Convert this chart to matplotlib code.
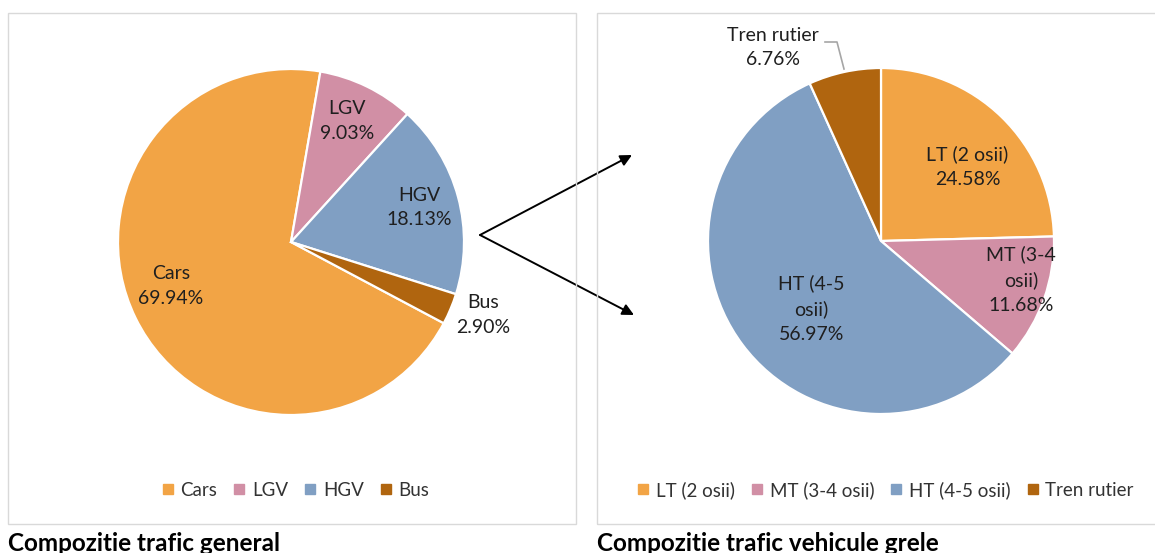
import numpy as np
import matplotlib
matplotlib.use("Agg")
import matplotlib.pyplot as plt
from matplotlib.patches import Rectangle, FancyArrowPatch
from matplotlib.lines import Line2D

# ---------------- data ----------------
gen_labels = ["Cars", "LGV", "HGV", "Bus"]
gen_values = [69.94, 9.03, 18.13, 2.90]
gen_colors = ["#F2A445", "#D18FA5", "#809FC3", "#B0650F"]
gen_title = "Compozitie trafic general"

hv_labels = ["LT (2 osii)", "MT (3-4 osii)", "HT (4-5 osii)", "Tren rutier"]
hv_label_text = ["LT (2 osii)", "MT (3-4\nosii)", "HT (4-5\nosii)", "Tren rutier"]
hv_values = [24.58, 11.68, 56.97, 6.76]
hv_colors = ["#F2A445", "#D18FA5", "#809FC3", "#B0650F"]
hv_title = "Compozitie trafic vehicule grele"

W, H = 1155, 553
FONT = "Lato"
TXT = "#1f1f1f"
LBL_FS = 14
plt.rcParams['font.family'] = [FONT, 'DejaVu Sans']

fig = plt.figure(figsize=(W / 100, H / 100), dpi=100)

def fx(px):
    return px / W

def fy(py):
    return 1 - py / H

# panel borders
for (x0, y0, x1, y1) in [(8, 13, 576, 524), (597, 13, 1160, 524)]:
    fig.patches.append(Rectangle((fx(x0), fy(y1)), fx(x1 - x0), (y1 - y0) / H,
                                 transform=fig.transFigure, fill=False,
                                 edgecolor="#D9D9D9", linewidth=1.0))

def make_pie(cx, cy, r, values, colors, start_cw_from_top, label_texts, label_layout):
    ax = fig.add_axes([fx(cx - r), fy(cy + r), 2 * r / W, 2 * r / H])
    wedges, _ = ax.pie(values, colors=colors, startangle=90 - start_cw_from_top,
                       counterclock=False, radius=1.0,
                       wedgeprops=dict(edgecolor="white", linewidth=1.6))
    ax.set_xlim(-1, 1)
    ax.set_ylim(-1, 1)
    ax.set_aspect("equal")
    ax.axis("off")
    total = sum(values)
    cum = start_cw_from_top
    for v, txt, (dist, dang) in zip(values, label_texts, label_layout):
        span = 360 * v / total
        mid = cum + span / 2 + dang
        cum += span
        a = np.deg2rad(mid)
        x, y = dist * np.sin(a), dist * np.cos(a)
        pct = f"{v:.2f}%"
        ax.text(x, y, f"{txt}\n{pct}", ha="center", va="center", fontsize=LBL_FS,
                color=TXT, linespacing=1.55, clip_on=False)
    return ax, wedges

# left pie (Cars first, first slice angle 118 deg)
ax1, w1 = make_pie(291, 242, 173, gen_values, gen_colors, 118, gen_labels,
                   [(0.74, 6), (0.77, -1), (0.77, 0), (1.19, -2)])

# right pie
hv_layout = [(0.66, 5), (0.84, -4), (0.56, -7), (1.28, -17)]
ax2, w2 = make_pie(881, 241, 173, hv_values, hv_colors, 0, hv_label_text, hv_layout)

# leader line for Tren rutier
fig.add_artist(Line2D([fx(825), fx(837), fx(844)], [fy(42), fy(42), fy(69)],
                      transform=fig.transFigure, color="#A6A6A6", linewidth=1.2))

# arrows
for tip in [(632, 155), (634, 315)]:
    fig.add_artist(FancyArrowPatch(
        (fx(480), fy(235)), (fx(tip[0]), fy(tip[1])), transform=fig.transFigure,
        arrowstyle="-|>", mutation_scale=17, color="black", linewidth=1.4,
        shrinkA=0, shrinkB=0))

def legend(labels, colors, cx, cy):
    handles = [Line2D([], [], linestyle="none", marker="s", markersize=6.5,
                      markerfacecolor=c, markeredgecolor=c) for c in colors]
    lg = fig.legend(handles, labels, loc="center", bbox_to_anchor=(fx(cx), fy(cy)),
                    ncol=len(labels), frameon=False, fontsize=13.5,
                    handlelength=0.55, handletextpad=0.4, columnspacing=0.9,
                    labelcolor="#333333", borderaxespad=0, borderpad=0)
    return lg

legend(gen_labels, gen_colors, 296, 490)
legend(hv_labels, hv_colors, 886, 490)

fig.text(fx(8), fy(551), gen_title, ha="left", va="baseline", fontsize=17.5,
         fontweight="bold", color="black")
fig.text(fx(597), fy(551), hv_title, ha="left", va="baseline", fontsize=17.5,
         fontweight="bold", color="black")

fig.savefig("out.png", dpi=100, facecolor="white")
